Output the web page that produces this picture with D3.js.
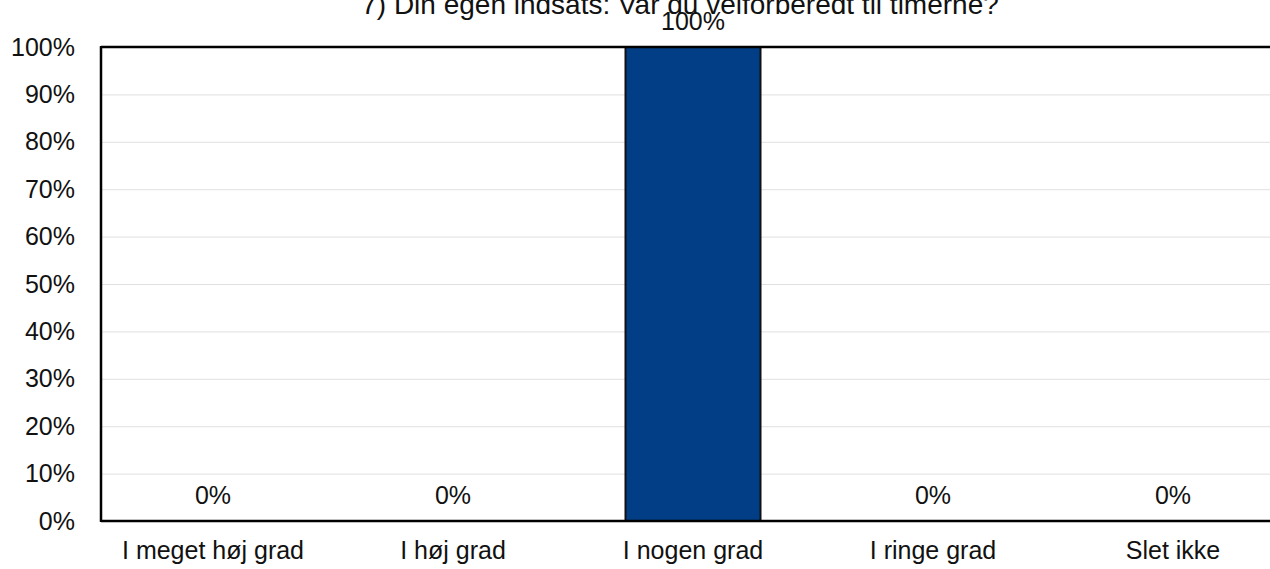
<!DOCTYPE html>
<html>
<head>
<meta charset="utf-8">
<script src="https://cdn.jsdelivr.net/npm/d3@7"></script>
<style>
  body { margin: 0; background: #fff; }
  svg { display: block; font-family: "Liberation Sans", Arial, sans-serif; }
</style>
</head>
<body>
<svg width="1270" height="569"></svg>
<script>
var title = "7) Din egen indsats: Var du velforberedt til timerne?";
var categories = ["I meget høj grad", "I høj grad", "I nogen grad", "I ringe grad", "Slet ikke"];
var values = [0, 0, 100, 0, 0];
var yTicks = [0, 10, 20, 30, 40, 50, 60, 70, 80, 90, 100];

var svg = d3.select('svg');
var plotLeft = 101, plotTop = 47, plotBottom = 521;
var fontSize = 25;

var x = d3.scaleBand()
  .domain(categories)
  .range([93, 1293])
  .paddingInner(0.4375)
  .paddingOuter(0.21875);

var y = d3.scaleLinear()
  .domain([0, 100])
  .range([plotBottom, plotTop]);

// gridlines
svg.append('g')
  .selectAll('line')
  .data(yTicks.slice(1, -1))
  .enter().append('line')
  .attr('x1', plotLeft)
  .attr('x2', 1270)
  .attr('y1', function(d) { return y(d) + 0.5; })
  .attr('y2', function(d) { return y(d) + 0.5; })
  .attr('stroke', '#e0e0e0')
  .attr('stroke-width', 1);

// y axis labels
var yAxis = d3.axisLeft(y)
  .tickValues(yTicks)
  .tickSize(0)
  .tickPadding(26)
  .tickFormat(function(d) { return d + '%'; });

svg.append('g')
  .attr('transform', 'translate(' + plotLeft + ',0)')
  .call(yAxis)
  .call(function(g) { g.select('.domain').remove(); })
  .attr('font-size', fontSize)
  .attr('font-family', '"Liberation Sans", Arial, sans-serif')
  .selectAll('text')
  .attr('fill', '#111');

// x axis labels
var xAxis = d3.axisBottom(x).tickSize(0).tickPadding(20);
svg.append('g')
  .attr('transform', 'translate(0,' + plotBottom + ')')
  .call(xAxis)
  .call(function(g) { g.select('.domain').remove(); })
  .attr('font-size', fontSize)
  .attr('font-family', '"Liberation Sans", Arial, sans-serif')
  .selectAll('text')
  .attr('fill', '#111');

// bars
svg.append('g')
  .selectAll('rect')
  .data(values)
  .enter().append('rect')
  .attr('x', function(d, i) { return x(categories[i]); })
  .attr('y', function(d) { return y(d); })
  .attr('width', x.bandwidth())
  .attr('height', function(d) { return plotBottom - y(d); })
  .attr('fill', '#023e85')
  .attr('stroke', '#111')
  .attr('stroke-width', 2)
  .style('display', function(d) { return d > 0 ? null : 'none'; });

// value labels
svg.append('g')
  .selectAll('text')
  .data(values)
  .enter().append('text')
  .attr('x', function(d, i) { return x(categories[i]) + x.bandwidth() / 2; })
  .attr('y', function(d) { return y(d) - 17; })
  .attr('text-anchor', 'middle')
  .attr('font-size', fontSize)
  .attr('fill', '#111')
  .text(function(d) { return d + '%'; });

// frame
svg.append('line')
  .attr('x1', plotLeft).attr('x2', 1270)
  .attr('y1', plotTop).attr('y2', plotTop)
  .attr('stroke', '#000').attr('stroke-width', 2.5);
svg.append('line')
  .attr('x1', plotLeft).attr('x2', 1270)
  .attr('y1', plotBottom).attr('y2', plotBottom)
  .attr('stroke', '#000').attr('stroke-width', 2.5);
svg.append('line')
  .attr('x1', plotLeft).attr('x2', plotLeft)
  .attr('y1', plotTop - 1).attr('y2', plotBottom + 1)
  .attr('stroke', '#000').attr('stroke-width', 2.5);

// title
svg.append('text')
  .attr('x', 680)
  .attr('y', 14)
  .attr('text-anchor', 'middle')
  .attr('font-size', 28)
  .attr('fill', '#111')
  .text(title);
</script>
</body>
</html>
